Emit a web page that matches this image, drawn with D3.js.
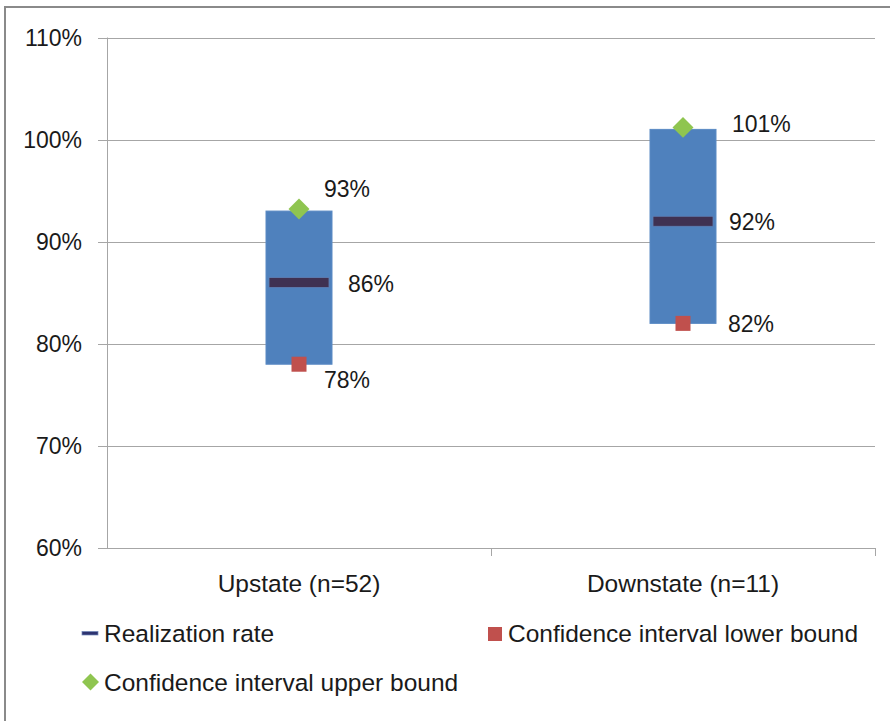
<!DOCTYPE html>
<html>
<head>
<meta charset="utf-8">
<script src="https://cdn.jsdelivr.net/npm/d3@7"></script>
<style>
  body { margin: 0; background: #fff; }
  svg { display: block; }
  text { font-family: "Liberation Sans", Arial, sans-serif; fill: #1a1a1a; }
</style>
</head>
<body>
<div id="chart"></div>
<script>
// values
var categories = ["Upstate (n=52)", "Downstate (n=11)"];
var realization = [0.86, 0.92];
var lowerBound = [0.78, 0.82];
var upperBound = [0.93, 1.01];
var yTicks = [0.6, 0.7, 0.8, 0.9, 1.0, 1.1];
var legendLabels = ["Realization rate", "Confidence interval lower bound", "Confidence interval upper bound"];

var W = 890, H = 721;
var plot = {left: 107, right: 875, top: 37.5, bottom: 548};

// where Excel put the data labels, relative to the category centre / marker
var lbl = {
    upper: [{dx: 25, dy: -14}, {dx: 49, dy: 2.5}],
    real:  [{dx: 49, dy: 9},   {dx: 46, dy: 8.5}],
    lower: [{dx: 25, dy: 23.5}, {dx: 45, dy: 8.3}]
};

var colBox = "#4f81bd", colReal = "#3f3152", colLow = "#c0504d", colUp = "#8fc550", colGrid = "#a6a6a6";

var svg = d3.select("#chart").append("svg")
    .attr("width", W)
    .attr("height", H);

// outer chart frame (cut by the window on the right and bottom)
svg.append("rect")
    .attr("x", 5).attr("y", 7)
    .attr("width", 1000).attr("height", 1000)
    .attr("fill", "none")
    .attr("stroke", "#8a8a8a")
    .attr("stroke-width", 2);

var y = d3.scaleLinear().domain([0.6, 1.1]).range([plot.bottom, plot.top]);
var x = d3.scaleBand().domain(categories).range([plot.left, plot.right]);
var fmt = d3.format(".0%");

// gridlines
svg.append("g").selectAll("line")
    .data(yTicks)
    .enter().append("line")
    .attr("x1", plot.left - 9).attr("x2", plot.right)
    .attr("y1", function(d) { return Math.round(y(d)) + 0.5; })
    .attr("y2", function(d) { return Math.round(y(d)) + 0.5; })
    .attr("stroke", colGrid);

// y axis line
svg.append("line")
    .attr("x1", plot.left + 0.5).attr("x2", plot.left + 0.5)
    .attr("y1", y(1.1)).attr("y2", y(0.6))
    .attr("stroke", colGrid);

// x ticks at band edges
var edges = [plot.left + x.bandwidth(), plot.right];
svg.append("g").selectAll("line")
    .data(edges)
    .enter().append("line")
    .attr("x1", function(d) { return Math.round(d) + 0.5; })
    .attr("x2", function(d) { return Math.round(d) + 0.5; })
    .attr("y1", y(0.6)).attr("y2", y(0.6) + 8)
    .attr("stroke", colGrid);

// y tick labels
svg.append("g").selectAll("text")
    .data(yTicks)
    .enter().append("text")
    .attr("x", 82)
    .attr("y", function(d) { return y(d) + 8; })
    .attr("text-anchor", "end")
    .attr("font-size", "23px")
    .text(fmt);

// category labels
svg.append("g").selectAll("text")
    .data(categories)
    .enter().append("text")
    .attr("x", function(d) { return x(d) + x.bandwidth() / 2; })
    .attr("y", 592)
    .attr("text-anchor", "middle")
    .attr("font-size", "24.5px")
    .text(function(d) { return d; });

var cx = function(i) { return x(categories[i]) + x.bandwidth() / 2; };
var idx = categories.map(function(d, i) { return i; });
var boxW = 66;

// interval boxes
svg.append("g").selectAll("rect")
    .data(idx)
    .enter().append("rect")
    .attr("x", function(i) { return cx(i) - boxW / 2; })
    .attr("y", function(i) { return y(upperBound[i]); })
    .attr("width", boxW)
    .attr("height", function(i) { return y(lowerBound[i]) - y(upperBound[i]); })
    .attr("fill", colBox)
    .attr("stroke", "#5a8ac4")
    .attr("stroke-width", 1);

// realization rate markers
svg.append("g").selectAll("rect")
    .data(idx)
    .enter().append("rect")
    .attr("x", function(i) { return cx(i) - 30; })
    .attr("y", function(i) { return y(realization[i]) - 5; })
    .attr("width", 60)
    .attr("height", 10)
    .attr("fill", colReal)
    .attr("stroke", "#5f7fb5")
    .attr("stroke-width", 0.8);

// lower bound squares
svg.append("g").selectAll("rect")
    .data(idx)
    .enter().append("rect")
    .attr("x", function(i) { return cx(i) - 7.5; })
    .attr("y", function(i) { return y(lowerBound[i]) - 7.5; })
    .attr("width", 15)
    .attr("height", 15)
    .attr("fill", colLow);

// upper bound diamonds
var diamond = d3.symbol().type(d3.symbolDiamond2).size(280);
svg.append("g").selectAll("path")
    .data(idx)
    .enter().append("path")
    .attr("d", diamond)
    .attr("transform", function(i) { return "translate(" + cx(i) + "," + (y(upperBound[i]) - 2) + ")"; })
    .attr("fill", colUp);

// data labels
function addLabels(values, offs) {
    svg.append("g").selectAll("text")
        .data(idx)
        .enter().append("text")
        .attr("x", function(i) { return cx(i) + offs[i].dx; })
        .attr("y", function(i) { return y(values[i]) + offs[i].dy; })
        .attr("font-size", "23px")
        .text(function(i) { return fmt(values[i]); });
}
addLabels(upperBound, lbl.upper);
addLabels(realization, lbl.real);
addLabels(lowerBound, lbl.lower);

// legend
var leg = svg.append("g").attr("font-size", "24.5px");
leg.append("rect")
    .attr("x", 82).attr("y", 631.5).attr("width", 16).attr("height", 3.5)
    .attr("fill", "#2e3470").attr("stroke", "#6f86b8").attr("stroke-width", 0.7);
leg.append("text").attr("x", 104).attr("y", 642).text(legendLabels[0]);

leg.append("rect")
    .attr("x", 488).attr("y", 627).attr("width", 14).attr("height", 14)
    .attr("fill", colLow);
leg.append("text").attr("x", 508).attr("y", 642).text(legendLabels[1]);

leg.append("path")
    .attr("d", d3.symbol().type(d3.symbolDiamond2).size(185))
    .attr("transform", "translate(90.5,682)")
    .attr("fill", colUp);
leg.append("text").attr("x", 104).attr("y", 691).text(legendLabels[2]);
</script>
</body>
</html>
